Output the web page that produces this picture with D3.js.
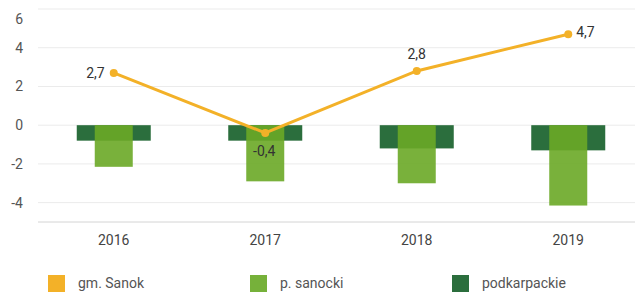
<!DOCTYPE html>
<html>
<head>
<meta charset="utf-8">
<script src="https://cdn.jsdelivr.net/npm/d3@7"></script>
<style>
  body { margin: 0; background: #fff; }
  svg { font-family: Roboto, sans-serif; display: block; }
</style>
</head>
<body>
<svg id="chart" width="635" height="293"></svg>
<script>
const years = ['2016', '2017', '2018', '2019'];
const gmSanok = [2.7, -0.4, 2.8, 4.7];
const pSanocki = [-2.15, -2.9, -3.0, -4.15];
const podkarpackie = [-0.8, -0.8, -1.2, -1.3];
const yTicks = [-4, -2, 0, 2, 4, 6];
const seriesNames = ['gm. Sanok', 'p. sanocki', 'podkarpackie'];

const colors = ['#f3b128', '#6aa926', '#2b6e3d'];
const legendColors = ['#f3b128', '#76b13a', '#2b6e3d'];

const svg = d3.select('#chart');
const left = 38, right = 635;

const x = d3.scaleBand().domain(years).range([38, 644]);
const y = d3.scaleLinear().domain([-5, 6]).range([222, 9]);

// grid
svg.append('g')
  .selectAll('line')
  .data(yTicks)
  .join('line')
  .attr('x1', left)
  .attr('x2', right)
  .attr('y1', (d) => y(d))
  .attr('y2', (d) => y(d))
  .attr('stroke', '#ebebeb')
  .attr('stroke-width', 1);

svg.append('line')
  .attr('x1', left).attr('x2', right)
  .attr('y1', y(-5)).attr('y2', y(-5))
  .attr('stroke', '#d4d4d4');

// top label is pushed down so it is not clipped
svg.append('g')
  .selectAll('text')
  .data(yTicks)
  .join('text')
  .attr('x', 23)
  .attr('y', (d) => Math.max(y(d), 19))
  .attr('dy', '0.35em')
  .attr('text-anchor', 'end')
  .attr('font-size', 14)
  .attr('fill', '#555')
  .text((d) => d);

svg.append('g')
  .selectAll('text')
  .data(years)
  .join('text')
  .attr('x', (d) => x(d) + x.bandwidth() / 2)
  .attr('y', 240)
  .attr('dy', '0.35em')
  .attr('text-anchor', 'middle')
  .attr('font-size', 14)
  .attr('fill', '#444')
  .text((d) => d);

// bars
const cx = (i) => x(years[i]) + x.bandwidth() / 2;

svg.append('g')
  .selectAll('rect')
  .data(podkarpackie)
  .join('rect')
  .attr('x', (d, i) => cx(i) - 37)
  .attr('width', 74)
  .attr('y', (d) => y(Math.max(0, d)))
  .attr('height', (d) => Math.abs(y(d) - y(0)))
  .attr('fill', colors[2]);

svg.append('g')
  .selectAll('rect')
  .data(pSanocki)
  .join('rect')
  .attr('x', (d, i) => cx(i) - 19)
  .attr('width', 38)
  .attr('y', (d) => y(Math.max(0, d)))
  .attr('height', (d) => Math.abs(y(d) - y(0)))
  .attr('fill', colors[1])
  .attr('fill-opacity', 0.9);

// line
const line = d3.line()
  .x((d, i) => cx(i))
  .y((d) => y(d));

svg.append('path')
  .datum(gmSanok)
  .attr('fill', 'none')
  .attr('stroke', colors[0])
  .attr('stroke-width', 3)
  .attr('d', line);

svg.append('g')
  .selectAll('circle')
  .data(gmSanok)
  .join('circle')
  .attr('cx', (d, i) => cx(i))
  .attr('cy', (d) => y(d))
  .attr('r', 4)
  .attr('fill', colors[0]);

// value labels: left, below, above, right
const labelPos = [
  { dx: -9, dy: 0, anchor: 'end' },
  { dx: -1, dy: 18, anchor: 'middle' },
  { dx: 0, dy: -17, anchor: 'middle' },
  { dx: 8, dy: -2, anchor: 'start' }
];

svg.append('g')
  .selectAll('text')
  .data(gmSanok)
  .join('text')
  .attr('x', (d, i) => cx(i) + labelPos[i].dx)
  .attr('y', (d, i) => y(d) + labelPos[i].dy)
  .attr('dy', '0.35em')
  .attr('text-anchor', (d, i) => labelPos[i].anchor)
  .attr('font-size', 14)
  .attr('fill', '#333')
  .text((d) => String(d).replace('.', ','));

// legend
const legendX = [48, 250, 452];
const legend = svg.append('g')
  .selectAll('g')
  .data(seriesNames)
  .join('g')
  .attr('transform', (d, i) => `translate(${legendX[i]}, 275)`);

legend.append('rect')
  .attr('width', 17)
  .attr('height', 17)
  .attr('fill', (d, i) => legendColors[i]);

legend.append('text')
  .attr('x', 30)
  .attr('y', 8.5)
  .attr('dy', '0.35em')
  .attr('font-size', 14)
  .attr('fill', '#555')
  .text((d) => d);
</script>
</body>
</html>
